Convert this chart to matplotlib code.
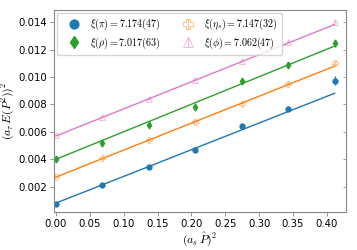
import numpy as np
import matplotlib
matplotlib.use("Agg")
import matplotlib.pyplot as plt

plt.rcParams['mathtext.fontset'] = 'cm'

# momentum squared (a_s P)^2
p2 = np.array([0.0, 0.0685, 0.1371, 0.2056, 0.2742, 0.3427, 0.4112])

# (a_t E)^2 for each state
pi_e = np.array([0.00075, 0.0021, 0.0034, 0.0047, 0.00645, 0.0077, 0.00975])
pi_err = np.array([0.00008, 0.00008, 0.0001, 0.0001, 0.00015, 0.0002, 0.0003])
rho_e = np.array([0.00401, 0.00518, 0.00652, 0.00782, 0.0097, 0.01087, 0.01246])
rho_err = np.array([0.00012, 0.00018, 0.0002, 0.0002, 0.00022, 0.00022, 0.00025])
eta_e = np.array([0.0027, 0.0041, 0.0054, 0.00674, 0.00806, 0.00951, 0.01105])
eta_err = np.array([0.00006, 0.00007, 0.00008, 0.0001, 0.0001, 0.00012, 0.00015])
phi_e = np.array([0.00574, 0.00706, 0.00843, 0.00982, 0.01117, 0.01259, 0.01405])
phi_err = np.array([0.00006, 0.00007, 0.00008, 0.00008, 0.0001, 0.0001, 0.00012])

# linear fits: intercept, slope
pi_fit = (0.0008, 0.0195)
rho_fit = (0.0040, 0.0201)
eta_fit = (0.0027, 0.0197)
phi_fit = (0.0057, 0.0198)

labels = [r'$\xi(\pi) = 7.174(47)$', r'$\xi(\rho) = 7.017(63)$',
          r'$\xi(\eta_s) = 7.147(32)$', r'$\xi(\phi) = 7.062(47)$']

fig = plt.figure(figsize=(3.57, 2.5), dpi=100)
ax = fig.add_axes([0.151, 0.152, 0.818, 0.808])

xl = np.array([p2[0], p2[-1]])

ax.errorbar(p2, pi_e, yerr=pi_err, fmt='o', color='C0', ms=3.5, elinewidth=1,
            label=labels[0])
ax.errorbar(p2, rho_e, yerr=rho_err, fmt='d', color='C2', ms=3.5, elinewidth=1,
            label=labels[1])
ax.errorbar(p2, eta_e, yerr=eta_err, fmt='P', color='C1', mfc='none', ms=4,
            mew=0.7, elinewidth=0.8, alpha=0.5, label=labels[2])
ax.errorbar(p2, phi_e, yerr=phi_err, fmt='^', color='C6', mfc='none', ms=4,
            mew=0.7, elinewidth=0.8, alpha=0.5, label=labels[3])

for fit, c in [(pi_fit, 'C0'), (rho_fit, 'C2'), (eta_fit, 'C1'), (phi_fit, 'C6')]:
    ax.plot(xl, fit[0] + fit[1] * xl, color=c, lw=1)

ylim = (0.00015, 0.0149)
yt = [0.002, 0.004, 0.006, 0.008, 0.010, 0.012, 0.014]
ax.set_xlim(-0.003, 0.428)
ax.set_ylim(ylim)
ax.set_xticks([0.0, 0.05, 0.1, 0.15, 0.2, 0.25, 0.3, 0.35, 0.4])
ax.set_yticks(yt)
ax.tick_params(labelsize=7.3, length=3, width=0.6, color='#808080', pad=2)
for s in ax.spines.values():
    s.set_color('#888888')
    s.set_linewidth(0.8)

# inward ticks on the right edge
ax2 = ax.twinx()
ax2.set_ylim(ylim)
ax2.set_yticks(yt)
ax2.tick_params(direction='in', length=2, width=0.6, color='#909090',
                labelright=False)
for s in ax2.spines.values():
    s.set_visible(False)

ax.set_xlabel(r'$(a_s\,\hat{P})^2$', fontsize=8.5, labelpad=1)
ax.set_ylabel(r'$(a_\tau\,E(\hat{P}^2))^2$', fontsize=8.5)
ax.yaxis.set_label_coords(-0.13, 0.5)

ax.legend(loc='upper left', ncol=2, fontsize=7.2, markerscale=1.8,
          handletextpad=0.3, columnspacing=1.5, borderpad=0.4,
          labelspacing=0.3, handlelength=2.6, borderaxespad=0.3)

fig.savefig('out.png', dpi=100)
